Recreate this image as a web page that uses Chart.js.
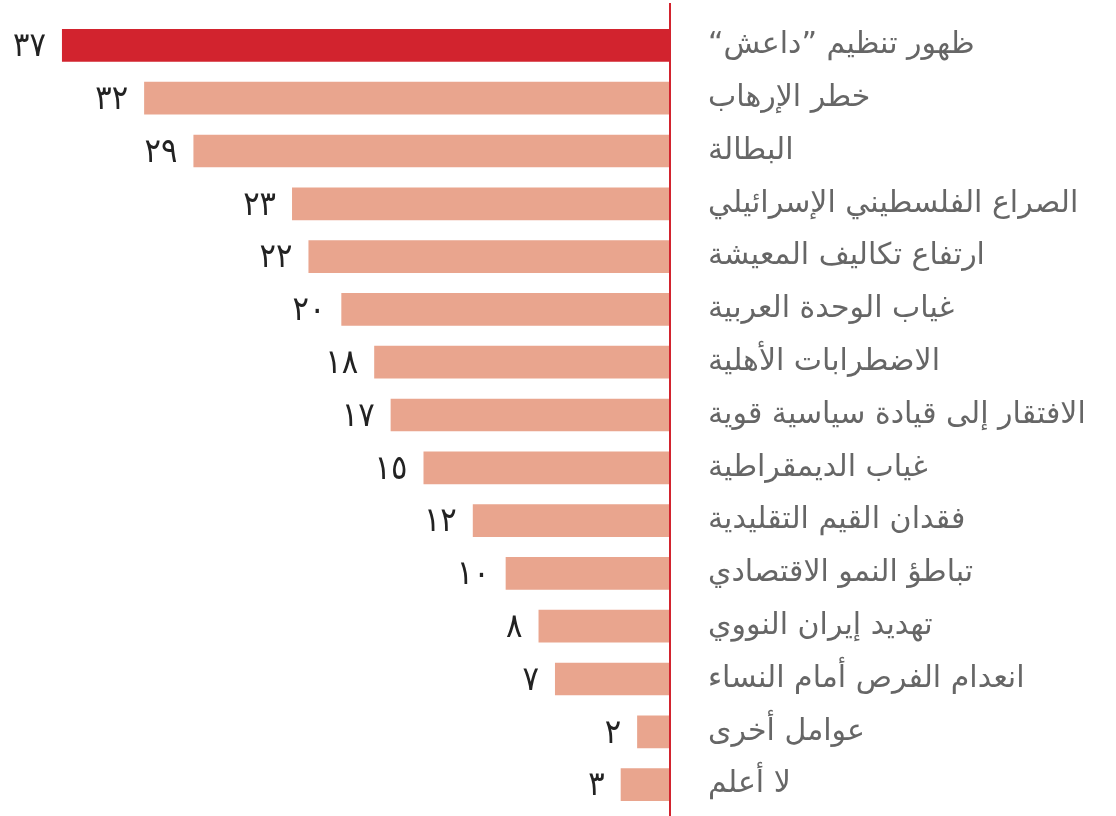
<!DOCTYPE html>
<html>
<head>
<meta charset="utf-8">
<script src="https://cdn.jsdelivr.net/npm/chart.js@4"></script>
<style>
  html, body { margin: 0; padding: 0; background: #fff; }
  #wrap { width: 1116px; height: 816px; }
</style>
</head>
<body>
<div id="wrap"><canvas id="myChart" dir="rtl"></canvas></div>
<script>
var labels = [
  "ظهور تنظيم ”داعش“",
  "خطر الإرهاب",
  "البطالة",
  "الصراع الفلسطيني الإسرائيلي",
  "ارتفاع تكاليف المعيشة",
  "غياب الوحدة العربية",
  "الاضطرابات الأهلية",
  "الافتقار إلى قيادة سياسية قوية",
  "غياب الديمقراطية",
  "فقدان القيم التقليدية",
  "تباطؤ النمو الاقتصادي",
  "تهديد إيران النووي",
  "انعدام الفرص أمام النساء",
  "عوامل أخرى",
  "لا أعلم"
];
var values = [37, 32, 29, 23, 22, 20, 18, 17, 15, 12, 10, 8, 7, 2, 3];

var arabicDigits = "٠١٢٣٤٥٦٧٨٩";
function toArabic(n) {
  return String(n).replace(/[0-9]/g, function (d) { return arabicDigits[d]; });
}

var barColors = values.map(function (v, i) {
  return i === 0 ? "#d2232e" : "#e9a58e";
});

// draws the numbers left of each bar and the red zero line
var valueLabels = {
  id: "valueLabels",
  afterDatasetsDraw: function (chart) {
    var ctx = chart.ctx;
    var meta = chart.getDatasetMeta(0);
    ctx.save();
    ctx.direction = "ltr";
    ctx.fillStyle = "#222";
    ctx.font = "34px 'DejaVu Sans Condensed', 'DejaVu Sans'";
    ctx.textAlign = "right";
    ctx.textBaseline = "middle";
    meta.data.forEach(function (bar, i) {
      ctx.fillText(toArabic(values[i]), bar.x - 16, bar.y + 2);
    });
    var x0 = chart.scales.x.getPixelForValue(0);
    ctx.strokeStyle = "#d2232e";
    ctx.lineWidth = 2;
    ctx.beginPath();
    ctx.moveTo(x0, 3);
    ctx.lineTo(x0, chart.height);
    ctx.stroke();
    ctx.restore();
  }
};

var ctx = document.getElementById("myChart");
var myChart = new Chart(ctx, {
  type: "bar",
  data: {
    labels: labels,
    datasets: [
      {
        data: values,
        backgroundColor: barColors,
        barPercentage: 0.62,
        categoryPercentage: 1,
      },
    ],
  },
  plugins: [valueLabels],
  options: {
    indexAxis: "y",
    responsive: true,
    maintainAspectRatio: false,
    animation: false,
    layout: {
      padding: { top: 19, bottom: 5, left: 0, right: 0 },
    },
    plugins: {
      legend: { display: false },
      tooltip: { enabled: false },
    },
    scales: {
      x: {
        display: false,
        reverse: true,
        min: 0,
        max: 40.77,
      },
      y: {
        position: "right",
        grid: { display: false, drawTicks: false },
        border: { display: false },
        afterFit: function (scale) {
          scale.width = 446;
          scale.paddingTop = 0;
          scale.paddingBottom = 0;
        },
        ticks: {
          padding: 38,
          color: "#666",
          font: { family: "'DejaVu Sans'", size: 30 },
        },
      },
    },
  },
});
</script>
</body>
</html>
